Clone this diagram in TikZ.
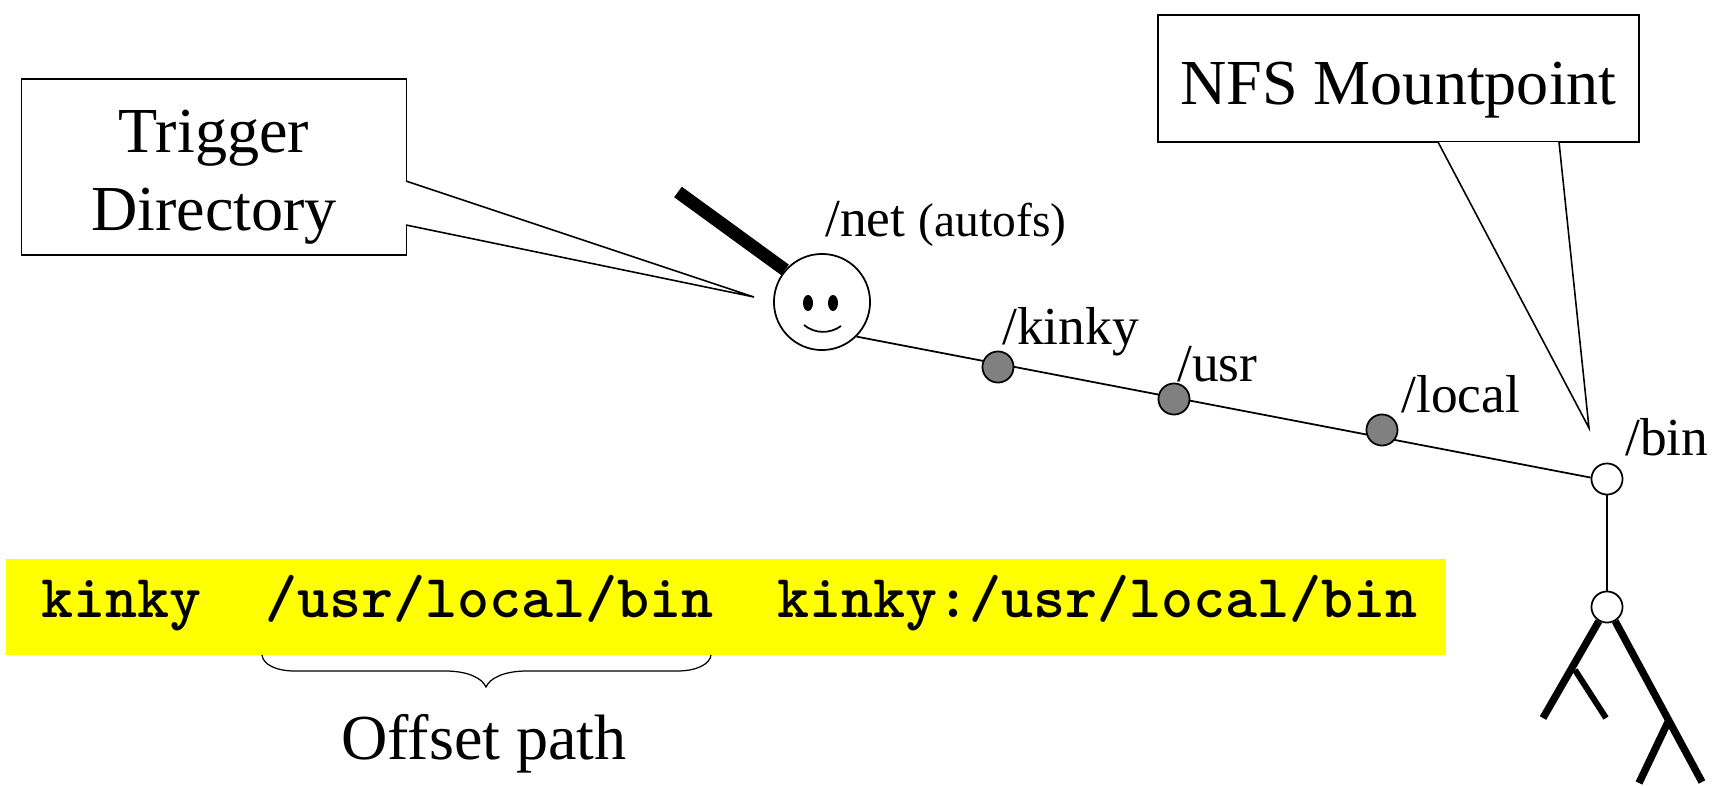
\documentclass[tikz,border=0pt]{standalone}
\usepackage{fontspec}
\setmainfont{Liberation Serif}
\usepackage{color}
\definecolor{dirgray}{RGB}{128,128,128}
\definecolor{pathyellow}{RGB}{255,255,0}

\tikzset{
  callbox/.style={draw,line width=0.9pt,inner sep=0pt},
  calltext/.style={inner sep=0pt,align=center,font=\fontsize{36.5}{44}\selectfont},
  callline/.style={line width=0.9pt},
  treeline/.style={line width=1pt},
  graydir/.style={draw,circle,fill=dirgray,line width=1pt,inner sep=0pt,minimum size=17.7pt},
  whitedir/.style={draw,circle,fill=white,line width=1pt,inner sep=0pt,minimum size=17.7pt},
  dirlabel/.style={anchor=base west,inner sep=0pt,font=\fontsize{30.4}{36}\selectfont},
  branch/.style={line width=4.2pt},
}

\begin{document}
\begin{tikzpicture}[x=0.02cm,y=-0.02cm]
        \useasboundingbox (0,0) rectangle (1712,785);

        \coordinate (triggertip) at (754,297);
        \coordinate (triggerup) at (406,181);
        \coordinate (triggerlow) at (406,225);
        \coordinate (nfstip) at (1589,428);
        \coordinate (nfsleft) at (1438,142);
        \coordinate (nfsright) at (1559,142);
        \coordinate (antenna) at (678,192);
        \coordinate (leaf1) at (1543,718);
        \coordinate (leaf2) at (1606,718);
        \coordinate (leaf3) at (1702,782);
        \coordinate (leaf4) at (1639,783);
        \coordinate (fork1) at (1575,670);
        \coordinate (fork2) at (1668,722);

        % yellow strip with the map entry
        \node[fill=pathyellow,inner sep=0pt,minimum width=820pt,minimum height=54.6pt] (mapstrip) at (726,607) {};
        \node[anchor=base west,inner sep=0pt,font=\fontsize{34.7}{40}\selectfont\ttfamily\bfseries] (mapentry) at (41,617)
            {kinky~~/usr/local/bin~~kinky:/usr/local/bin};

        % callouts
        \node[callbox,minimum width=219pt,minimum height=100.2pt] (trigger) at (214,167) {};
        \node[callbox,minimum width=273.6pt,minimum height=72.3pt] (nfs) at (1398.5,78.5) {};
        \node[calltext,anchor=base] (triggertext) at (214,230) {Trigger\\Directory};
        \node[calltext,anchor=base] (nfstext) at (1398.5,104) {NFS Mountpoint};
        \fill[white] (triggerup) -- (triggertip) -- (triggerlow) -- cycle;
        \fill[white] (nfsleft) -- (nfstip) -- (nfsright) -- cycle;
        \draw[callline] (triggerup) -- (triggertip) -- (triggerlow);
        \draw[callline] (nfsleft) -- (nfstip) -- (nfsright);

        % the directory path
        \node[draw,circle,fill=white,line width=1pt,inner sep=0pt,minimum size=54.7pt] (net) at (822,302) {};
        \node[whitedir] (bin) at (1607,479) {};
        \node[whitedir] (below) at (1607,607) {};
        \draw[treeline] (net.-45) -- (bin.175);
        \draw[treeline] (bin) -- (below);
        \node[graydir] (kinky) at (998,367) {};
        \node[graydir] (usr) at (1174,399) {};
        \node[graydir] (local) at (1382,430) {};
        \draw[line width=7.4pt] (net.139) -- (antenna);

        % face
        \fill (808,303) ellipse [x radius=5,y radius=8];
        \fill (833,303) ellipse [x radius=5,y radius=8];
        \draw[treeline] (804,325) .. controls (815,334) and (830,334) .. (841,326);

        % tree below the mountpoint
        \draw[branch] (below.240) -- (leaf1);
        \draw[branch] (below.-60) -- (leaf3);
        \draw[line width=3.4pt] (fork1) -- (leaf2);
        \draw[branch] (fork2) -- (leaf4);

        \node[dirlabel] (netlabel) at (825,236) {/net {\fontsize{27}{30}\selectfont (autofs)}};
        \node[dirlabel] (kinkylabel) at (1002,344) {/kinky};
        \node[dirlabel] (usrlabel) at (1177,381) {/usr};
        \node[dirlabel] (locallabel) at (1401,412) {/local};
        \node[dirlabel] (binlabel) at (1625,455) {/bin};

        % brace
        \coordinate (braceleft) at (262,655);
        \coordinate (braceright) at (711,655);
        \coordinate (bracetip) at (486,687);
        \draw[line width=0.7pt] (braceleft) .. controls (263,664) and (275,671) .. (295,671)
            -- (445,671) .. controls (468,671) and (482,678) .. (bracetip)
            .. controls (490,678) and (504,671) .. (527,671)
            -- (677,671) .. controls (697,671) and (710,664) .. (braceright);
        \node[calltext,anchor=base] (offset) at (484,759) {Offset path};
\end{tikzpicture}
\end{document}
